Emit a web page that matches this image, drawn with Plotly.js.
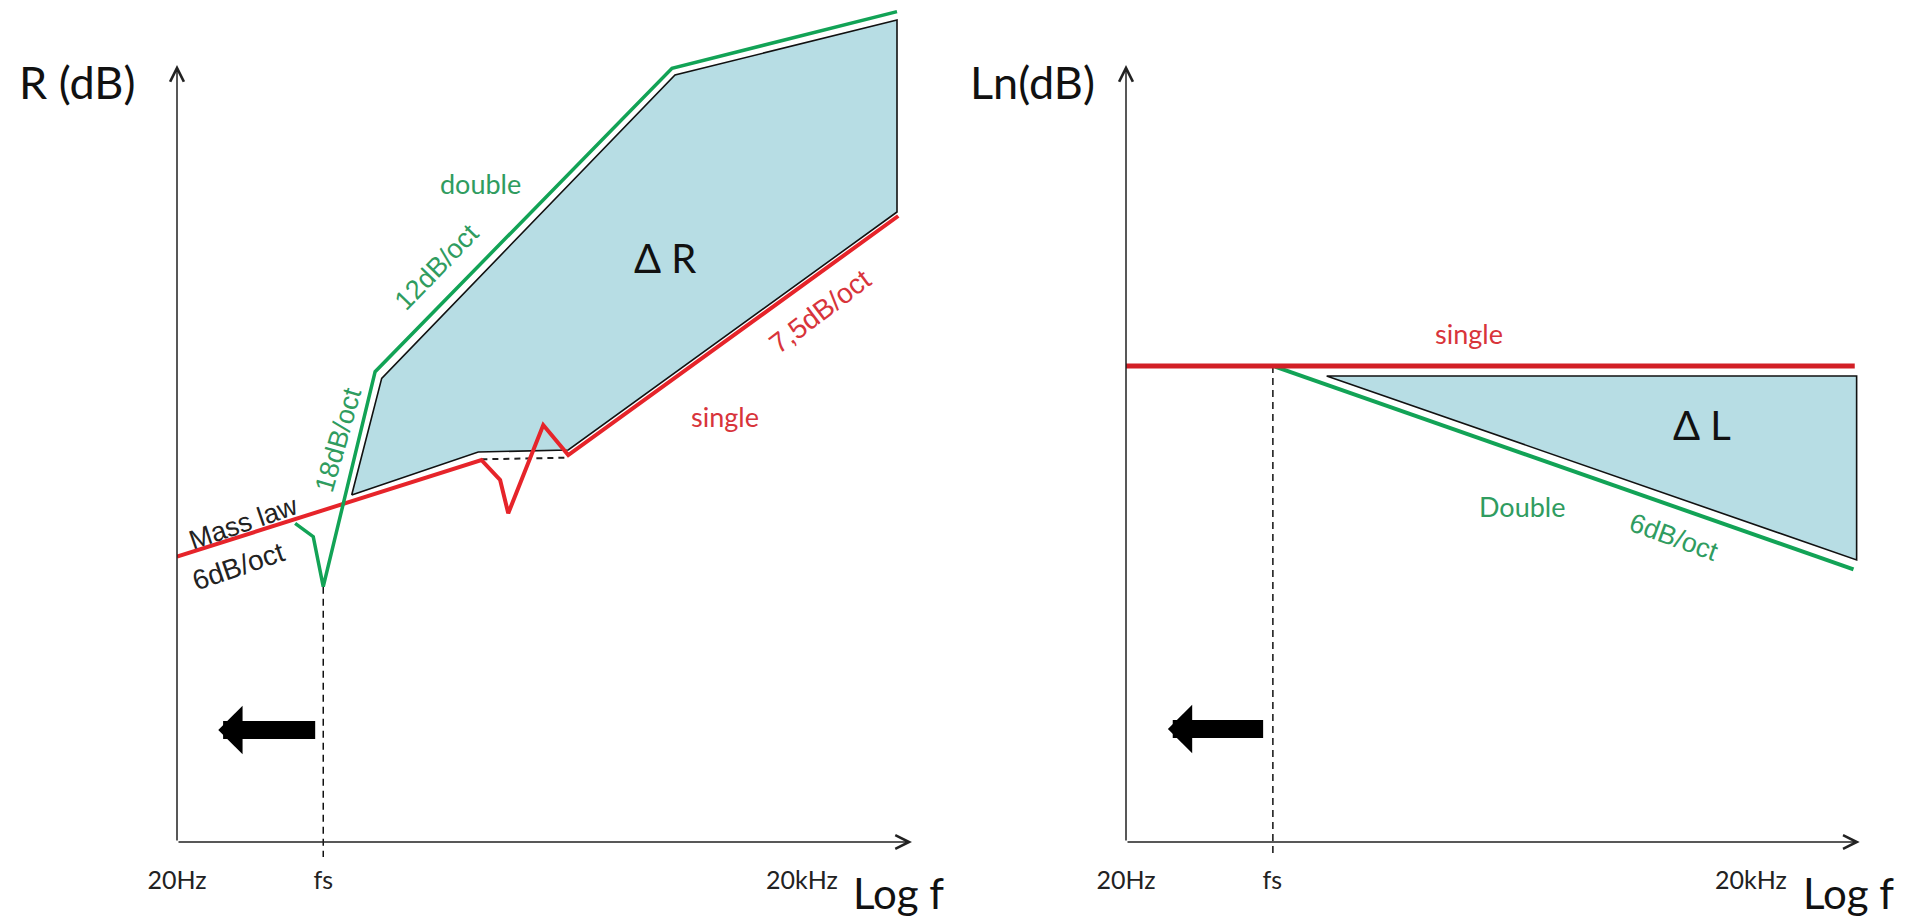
<!DOCTYPE html>
<html>
<head>
<meta charset="utf-8">
<script src="https://cdn.plot.ly/plotly-3.0.1.min.js"></script>
<style>html,body{margin:0;padding:0;background:#fff;}#chart{width:1908px;height:922px;}</style>
</head>
<body>
<div id="chart"></div>
<script>
// ---------- data (x: octaves above 20 Hz, y: dB, schematic) ----------
const tickVals = [0, 2.34, 10];
const tickText = ['20Hz', 'fs', '20kHz'];

// Left panel: sound reduction index R
const singleR_x = [0, 4.87, 5.17, 5.30, 5.86, 6.26, 11.54];
const singleR_y = [85.6, 114.6, 108.6, 98.6, 125.1, 116.1, 187.8];
const doubleR_x = [1.89, 2.18, 2.34, 3.17, 7.92, 11.52];
const doubleR_y = [95.6, 91.6, 76.6, 141.1, 232.1, 249.1];
const deltaR_x = [2.795, 3.275, 7.968, 11.52, 11.52, 6.26, 4.82, 2.795];
const deltaR_y = [104.1, 139.1, 230.1, 246.6, 189.0, 117.6, 117.0, 104.1];
const massLawDash_x = [4.87, 6.26];
const massLawDash_y = [114.8, 115.3];
const fsR_x = [2.34, 2.34];
const fsR_y = [76.6, -4.5];

// Right panel: impact sound level Ln
const singleL_x = [0, 11.66];
const singleL_y = [142.8, 142.8];
const doubleL_x = [2.384, 11.64];
const doubleL_y = [142.6, 81.8];
const deltaL_x = [3.21, 11.69, 11.69, 3.21];
const deltaL_y = [139.8, 139.8, 84.6, 139.8];
const fsL_x = [2.35, 2.35];
const fsL_y = [142.8, -4.5];

// axis arrows and "lower fs" arrows
const axisTipX = [11.76, 11.74];
const axisTipY = [233.1, 233.1];
const shiftArrowTail = [2.235, 2.218];
const shiftArrowTip = [0.66, 0.67];
const shiftArrowY = [33.6, 33.9];

// ---------- styles ----------
const GREEN = '#12a356';
const GREEN_TXT = '#2f9c60';
const RED = '#e6242a';
const RED2 = '#d21f26';
const RED_TXT = '#d8343b';
const FILL = '#b7dde4';
const CAL = 'Lato, "Open Sans", sans-serif';
const ARI = '"Liberation Sans", Arial, sans-serif';

function line(x, y, xa, ya, color, width, dash) {
  return {x: x, y: y, xaxis: xa, yaxis: ya, type: 'scatter', mode: 'lines',
    line: {color: color, width: width, dash: dash || 'solid'}, hoverinfo: 'skip'};
}
function poly(x, y, xa, ya) {
  return {x: x, y: y, xaxis: xa, yaxis: ya, type: 'scatter', mode: 'lines', fill: 'toself',
    fillcolor: FILL, line: {color: '#111', width: 1.6}, hoverinfo: 'skip'};
}

const traces = [
  poly(deltaR_x, deltaR_y, 'x', 'y'),
  line(massLawDash_x, massLawDash_y, 'x', 'y', '#222', 2, '6px,5px'),
  line(fsR_x, fsR_y, 'x', 'y', '#111', 1.5, '7px,5px'),
  line(singleR_x, singleR_y, 'x', 'y', RED, 4),
  line(doubleR_x, doubleR_y, 'x', 'y', GREEN, 3.5),

  poly(deltaL_x, deltaL_y, 'x2', 'y2'),
  line(fsL_x, fsL_y, 'x2', 'y2', '#111', 1.5, '7px,5px'),
  line(doubleL_x, doubleL_y, 'x2', 'y2', GREEN, 4),
  line(singleL_x, singleL_y, 'x2', 'y2', RED2, 5)
];

const W = 1908, H = 922;
const px = v => v / W;
const py = v => 1 - v / H;

function txt(x, y, xr, yr, text, size, color, family, angle) {
  return {x: x, y: y, xref: xr, yref: yr, text: text, showarrow: false,
    xanchor: 'center', yanchor: 'middle', textangle: angle || 0,
    font: {size: size, color: color, family: family}};
}
function arrow(xr, yr, x, y, ax, ay, width, head, size, color) {
  return {x: x, y: y, ax: ax, ay: ay, xref: xr, yref: yr, axref: xr, ayref: yr,
    text: '', showarrow: true, arrowhead: head, arrowsize: size, arrowwidth: width,
    arrowcolor: color};
}

const annotations = [
  // axes with open arrow heads
  arrow('x', 'y', 0, axisTipY[0], 0, 0, 1.5, 5, 1.8, '#222'),
  arrow('x', 'y', axisTipX[0], 0, 0, 0, 1.5, 5, 1.8, '#222'),
  arrow('x2', 'y2', 0, axisTipY[1], 0, 0, 1.5, 5, 1.8, '#222'),
  arrow('x2', 'y2', axisTipX[1], 0, 0, 0, 1.5, 5, 1.8, '#222'),
  // thick arrows
  arrow('x', 'y', shiftArrowTip[0], shiftArrowY[0], shiftArrowTail[0], shiftArrowY[0], 18, 1, 0.45, '#000'),
  arrow('x2', 'y2', shiftArrowTip[1], shiftArrowY[1], shiftArrowTail[1], shiftArrowY[1], 18, 1, 0.45, '#000'),

  // axis titles
  txt(px(77), py(82), 'paper', 'paper', 'R (dB)', 45, '#111', CAL),
  txt(px(1032), py(82), 'paper', 'paper', 'Ln(dB)', 45, '#111', CAL),
  txt(px(898), py(893), 'paper', 'paper', 'Log f', 42, '#111', CAL),
  txt(px(1848), py(893), 'paper', 'paper', 'Log f', 42, '#111', CAL),

  // left panel labels
  txt(7.81, 175.2, 'x', 'y', 'Δ R', 40, '#111', CAL),
  txt(4.85, 197.7, 'x', 'y', 'double', 27, GREEN_TXT, CAL),
  txt(4.155, 172.6, 'x', 'y', '12dB/oct', 27, GREEN_TXT, ARI, -46),
  txt(2.58, 120.6, 'x', 'y', '18dB/oct', 27, GREEN_TXT, ARI, -74),
  txt(1.06, 95.6, 'x', 'y', 'Mass law', 27, '#222', ARI, -19),
  txt(0.98, 82.6, 'x', 'y', '6dB/oct', 28, '#222', ARI, -19),
  txt(10.29, 159.1, 'x', 'y', '7,5dB/oct', 28, RED_TXT, ARI, -37),
  txt(8.77, 127.6, 'x', 'y', 'single', 27, RED_TXT, CAL),

  // right panel labels
  txt(5.49, 152.7, 'x2', 'y2', 'single', 27, RED_TXT, CAL),
  txt(9.21, 125.1, 'x2', 'y2', 'Δ L', 40, '#111', CAL),
  txt(6.33, 100.6, 'x2', 'y2', 'Double', 27, GREEN_TXT, CAL),
  txt(8.76, 91.6, 'x2', 'y2', '6dB/oct', 27, GREEN_TXT, ARI, 20)
];

function xax(dom) {
  return {domain: dom, range: [0, 12], showgrid: false, zeroline: false, showline: false,
    ticks: '', tickvals: tickVals, ticktext: tickText, ticklabelstandoff: 1,
    tickfont: {size: 25, color: '#222', family: CAL}, fixedrange: true};
}
function yax(xa) {
  return {domain: [60 / H, 1], range: [-6, 252.6], visible: false, anchor: xa, fixedrange: true};
}

const layout = {
  width: W, height: H, margin: {l: 0, r: 0, t: 0, b: 0},
  paper_bgcolor: '#fff', plot_bgcolor: 'rgba(0,0,0,0)', showlegend: false,
  xaxis: Object.assign(xax([177 / W, 927 / W]), {anchor: 'y'}),
  yaxis: yax('x'),
  xaxis2: Object.assign(xax([1126 / W, 1876 / W]), {anchor: 'y2'}),
  yaxis2: yax('x2'),
  annotations: annotations
};

Plotly.newPlot('chart', traces, layout, {displayModeBar: false, staticPlot: true});
</script>
</body>
</html>
